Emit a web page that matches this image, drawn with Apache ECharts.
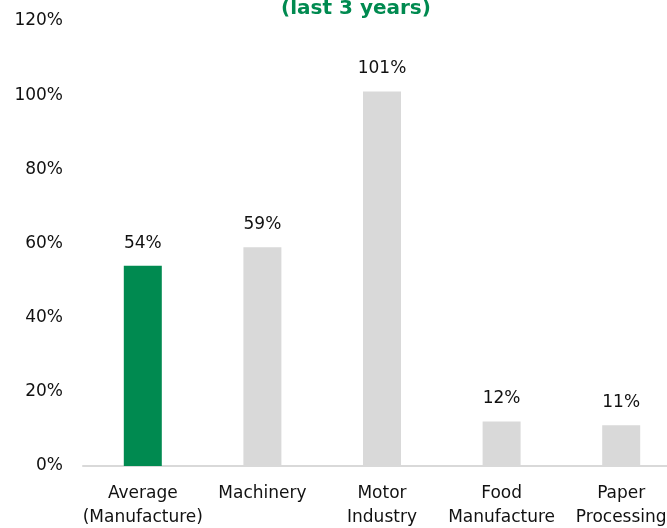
<!DOCTYPE html>
<html>
<head>
<meta charset="utf-8">
<script src="https://cdn.jsdelivr.net/npm/echarts@6/dist/echarts.min.js"></script>
<style>
  html, body { margin: 0; padding: 0; background: #fff; }
  #chart { width: 667px; height: 528px; }
</style>
</head>
<body>
<div id="chart"></div>
<script>
// Growth by sector over the last three years
const categories = ['Average\n(Manufacture)', 'Machinery', 'Motor\nIndustry', 'Food\nManufacture', 'Paper\nProcessing'];
const values = [54, 59, 101, 12, 11];
const yTicks = [0, 20, 40, 60, 80, 100, 120];

const GREEN = '#008A50';
const GREY = '#D9D9D9';
const FONT = 'DejaVu Sans';

const chart = echarts.init(document.getElementById('chart'));
chart.setOption({
  animation: false,
  title: {
    text: '(last 3 years)',
    left: 351,
    top: -6,
    textAlign: 'center',
    textStyle: { color: GREEN, fontSize: 20, fontWeight: 'bold', fontFamily: FONT }
  },
  grid: {
    left: 83, right: -14, top: 21, bottom: 62,
    containLabel: false, outerBoundsMode: 'none'
  },
  xAxis: {
    type: 'category',
    data: categories,
    axisLine: { show: true, lineStyle: { color: GREY, width: 2 } },
    axisTick: { show: false },
    axisLabel: {
      color: '#111', fontSize: 17, fontFamily: FONT, margin: 16,
      lineHeight: 24, interval: 0
    }
  },
  yAxis: {
    type: 'value',
    min: yTicks[0],
    max: yTicks[yTicks.length - 1],
    interval: 20,
    splitLine: { show: false },
    axisLine: { show: false },
    axisTick: { show: false },
    axisLabel: {
      color: '#111', fontSize: 17, fontFamily: FONT, margin: 20,
      formatter: v => v + '%'
    }
  },
  series: [{
    type: 'bar',
    data: values.map((v, i) => ({
      value: v,
      itemStyle: { color: i === 0 ? GREEN : GREY }
    })),
    barWidth: 38,
    label: {
      show: true, position: 'top', distance: 14,
      color: '#111', fontSize: 17, fontFamily: FONT,
      formatter: p => p.value + '%'
    }
  }]
});
</script>
</body>
</html>
